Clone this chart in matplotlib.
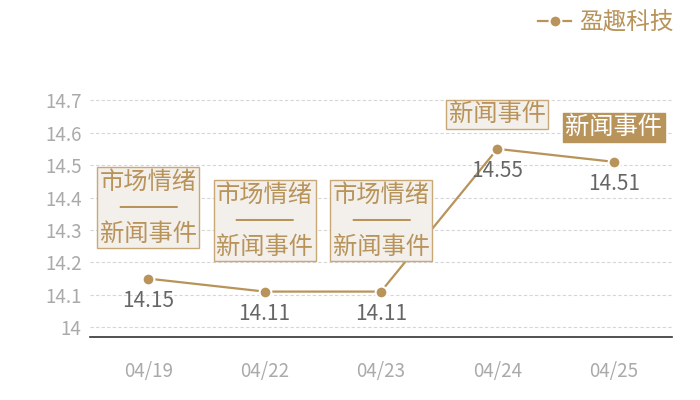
import matplotlib.pyplot as plt
from matplotlib.lines import Line2D

plt.rcParams['font.family'] = ['Noto Sans CJK SC', 'DejaVu Sans']

# ── Data ─────────────────────────────────────────────────────────────────────
dates = ["04/19", "04/22", "04/23", "04/24", "04/25"]
prices = [14.15, 14.11, 14.11, 14.55, 14.51]
events = ["市场情绪\n────\n新闻事件", "市场情绪\n────\n新闻事件", "市场情绪\n────\n新闻事件",
          "新闻事件", "新闻事件"]
highlight = [False, False, False, False, True]
series_name = "盈趣科技"
yticks = [14, 14.1, 14.2, 14.3, 14.4, 14.5, 14.6, 14.7]

# ── Style ────────────────────────────────────────────────────────────────────
GOLD = "#b8935a"
BOX_FILL = "#f3efea"
GRAY_TICK = "#aaaaaa"
GRAY_VAL = "#666666"

fig = plt.figure(figsize=(7, 4), dpi=100)
ax = fig.add_axes([90 / 700, 1 - 337 / 400, 582 / 700, 253 / 400])

x = list(range(len(dates)))
ax.plot(x, prices, color=GOLD, linewidth=1.6, marker="o", markersize=8.5,
        markerfacecolor=GOLD, markeredgecolor="white", markeredgewidth=1.5,
        zorder=3)

ax.set_xlim(-0.5, len(dates) - 0.5)
ax.set_ylim(13.97, 14.75)
ax.set_yticks(yticks)
ax.set_yticklabels([f"{v:g}" for v in yticks])
ax.set_xticks(x)
ax.set_xticklabels(dates)

ax.yaxis.grid(True, color="#d6d6d6", linestyle=(0, (3, 2)), linewidth=0.8)
ax.set_axisbelow(True)
for s in ["top", "right", "left"]:
    ax.spines[s].set_visible(False)
ax.spines["bottom"].set_color("#333333")
ax.spines["bottom"].set_linewidth(1.2)
ax.tick_params(left=False, bottom=False, length=0)
ax.tick_params(axis="y", labelsize=13.5, colors=GRAY_TICK, pad=6)
ax.tick_params(axis="x", labelsize=13.5, colors=GRAY_TICK, pad=17)

for xi, p, ev, hl in zip(x, prices, events, highlight):
    ax.annotate(f"{p:.2f}", (xi, p), xytext=(0, -16), textcoords="offset points",
                ha="center", va="center", fontsize=15, color=GRAY_VAL, zorder=4)
    multi = "\n" in ev
    dy = 51 if multi else 25
    if hl:
        box = dict(boxstyle="square,pad=0.1", facecolor=GOLD, edgecolor=GOLD, linewidth=1)
        tc = "white"
    else:
        box = dict(boxstyle="square,pad=0.1", facecolor=BOX_FILL, edgecolor="#c9a878", linewidth=1)
        tc = GOLD
    ax.annotate(ev, (xi, p), xytext=(0, dy), textcoords="offset points",
                ha="center", va="center", fontsize=17.5, color=tc,
                family=["DejaVu Sans", "Noto Sans CJK SC"],
                linespacing=1.1, bbox=box, zorder=5, multialignment="center")

handle = Line2D([], [], color=GOLD, linewidth=1.6, marker="o", markersize=8.5,
                markerfacecolor=GOLD, markeredgecolor="white", markeredgewidth=1.5)
fig.legend(handles=[handle], labels=[series_name], loc="upper right",
           bbox_to_anchor=(0.993, 1.025), frameon=False, fontsize=17,
           labelcolor=GOLD, handlelength=1.4, handletextpad=0.35)

fig.savefig("out.png", dpi=100)
